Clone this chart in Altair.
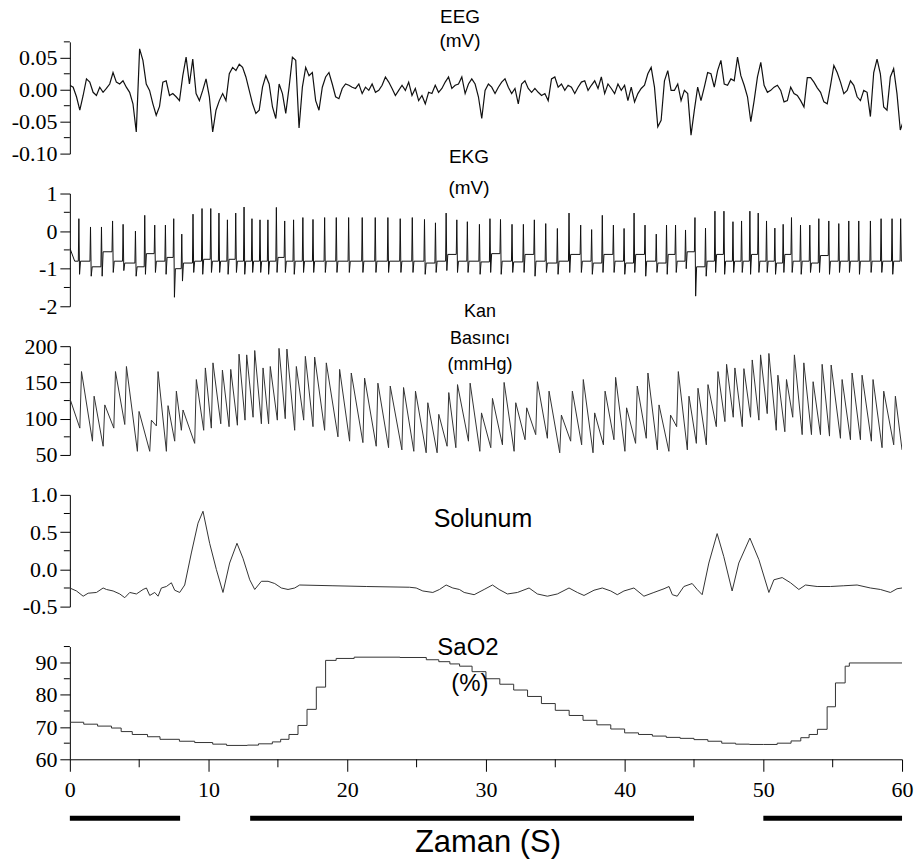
import altair as alt
import pandas as pd

# ---------------- data ----------------
X_DOMAIN = [0, 60]

# EEG (mV), sampled every EEG_STEP seconds from t = 0
EEG_STEP = 0.2395
EEG_MV = [
    0.007, 0.004, -0.011, -0.032, -0.009, 0.017, 0.012, -0.004, -0.009, 0.004,
    -0.004, 0.002, 0.009, 0.027, 0.012, 0.009, 0.014, 0.004, -0.004, -0.022,
    -0.066, 0.064, 0.046, 0.009, -0.001, -0.022, -0.040, -0.026, 0.012, 0.014,
    -0.009, -0.006, -0.011, -0.017, 0.022, 0.051, 0.009, 0.048, -0.006, -0.017,
    -0.001, 0.017, -0.011, -0.066, -0.032, -0.017, -0.006, -0.017, 0.025, 0.035,
    0.030, 0.040, 0.035, 0.020, -0.001, -0.022, -0.037, -0.032, 0.004, 0.022,
    0.009, -0.027, -0.045, 0.009, -0.006, -0.037, 0.004, 0.051, 0.046, -0.060,
    0.004, 0.035, 0.022, 0.027, -0.017, -0.032, 0.004, 0.020, 0.027, 0.009,
    -0.011, -0.014, 0.002, 0.009, 0.007, 0.004, 0.002, 0.009, -0.006, 0.004,
    -0.001, 0.009, -0.004, -0.001, 0.007, 0.020, 0.012, 0.002, -0.009, -0.001,
    0.007, -0.001, 0.012, -0.009, 0.002, -0.017, -0.009, -0.022, -0.004, -0.006,
    0.007, -0.004, 0.002, 0.012, 0.020, 0.002, 0.007, 0.009,
    0.020, -0.006, 0.009, 0.017, 0.009, -0.011, -0.045, -0.001, 0.009, 0.004,
    -0.006, 0.004, 0.012, 0.017, 0.004, -0.006, 0.002, -0.022, 0.009, 0.014,
    0.002, -0.004, 0.002, -0.004, -0.009, -0.006, -0.017, 0.017, 0.020, 0.004,
    0.009, -0.001, 0.007, 0.004, -0.006, 0.004, 0.012, 0.014, -0.001, 0.007,
    0.014, 0.002, 0.020, -0.006, 0.009, 0.002, -0.006, 0.009, -0.001, 0.007,
    -0.017, 0.004, -0.019, -0.006, 0.002, 0.007, 0.025, 0.035, 0.004, -0.058,
    -0.048, 0.014, 0.030, -0.001, -0.001, 0.009, -0.017, -0.001, -0.006, -0.071,
    -0.032, 0.004, -0.017, 0.004, 0.027, 0.025, 0.004, 0.030, 0.046, 0.009,
    0.007, 0.017, 0.014, 0.051, 0.022, 0.007, -0.011, -0.050, -0.017, 0.020,
    0.043, 0.007, -0.004, -0.001, 0.004, 0.007, -0.001, -0.019, -0.017, 0.004,
    -0.006, -0.009, -0.017, -0.027, 0.019, 0.019, 0.012, 0.003, -0.004, -0.019,
    -0.022, 0.007, 0.038, 0.027, 0.012, -0.006, -0.001, 0.014, 0.007, -0.011,
    -0.017, -0.001, -0.004, -0.042, 0.027, 0.048, 0.025, -0.027, -0.032, 0.020,
    0.033, -0.006, -0.063, -0.048,
]

# EKG (mV): trace start, then beats (time s, R peak, S trough, level after beat)
EKG_START = [(0.0, -0.45), (0.35, -0.8)]
EKG_BEATS = [
    (0.65, 0.33, -1.15, -0.8), (1.49, 0.11, -1.2, -0.95), (2.28, 0.11, -1.2, -0.55),
    (3.08, 0.27, -1.1, -0.8), (3.84, 0.18, -1.05, -0.85), (4.73, 0.0, -1.2, -0.95),
    (5.40, 0.42, -1.15, -0.6), (6.12, 0.16, -1.1, -0.8), (6.89, 0.16, -1.15, -0.7),
    (7.49, 0.33, -1.76, -1.0), (8.07, -0.08, -1.33, -0.85), (8.88, 0.45, -1.1, -0.8),
    (9.53, 0.6, -1.15, -0.75), (10.16, 0.6, -1.1, -0.8), (10.75, 0.48, -1.1, -0.8),
    (11.36, 0.3, -1.15, -0.75), (11.96, 0.48, -1.1, -0.8), (12.56, 0.64, -1.15, -0.8),
    (13.13, 0.33, -1.1, -0.8), (13.71, 0.3, -1.1, -0.8), (14.28, 0.3, -1.15, -0.8),
    (14.89, 0.63, -1.1, -0.7), (15.49, 0.27, -1.1, -0.8), (16.13, 0.3, -1.15, -0.8),
    (16.80, 0.36, -1.1, -0.8), (17.53, 0.31, -1.1, -0.8), (18.37, 0.36, -1.1, -0.8),
    (19.21, 0.36, -1.1, -0.8), (20.10, 0.36, -1.1, -0.8), (21.08, 0.36, -1.1, -0.8),
    (22.02, 0.36, -1.1, -0.8), (22.93, 0.36, -1.1, -0.8), (23.82, 0.33, -1.1, -0.8),
    (24.69, 0.36, -1.1, -0.8), (25.57, 0.31, -1.15, -0.85), (26.36, 0.22, -1.1, -0.8),
    (27.13, 0.48, -1.05, -0.62), (27.90, 0.3, -1.1, -0.8), (28.66, 0.25, -1.1, -0.8),
    (29.53, 0.18, -1.15, -0.82), (30.29, 0.33, -1.1, -0.6), (31.05, 0.31, -1.15, -0.8),
    (31.88, 0.18, -1.1, -0.82), (32.70, 0.18, -1.1, -0.62), (33.49, 0.3, -1.2, -0.8),
    (34.31, 0.2, -1.1, -0.85), (35.15, 0.07, -1.15, -0.8), (35.99, 0.48, -1.1, -0.62),
    (36.83, 0.16, -1.1, -0.8), (37.62, 0.04, -1.15, -0.85), (38.39, 0.42, -1.1, -0.62),
    (39.19, 0.16, -1.1, -0.8), (39.96, 0.07, -1.15, -0.85), (40.68, 0.48, -1.1, -0.62),
    (41.47, 0.16, -1.2, -0.8), (42.28, -0.08, -1.1, -0.85), (43.02, 0.16, -1.15, -0.62),
    (43.67, 0.16, -1.1, -0.8), (44.39, 0.03, -1.0, -0.55), (45.07, 0.36, -1.73, -0.95),
    (45.83, 0.08, -1.2, -0.8), (46.51, 0.53, -1.1, -0.62), (47.16, 0.53, -1.15, -0.8),
    (47.81, 0.25, -1.1, -0.8), (48.43, 0.27, -1.1, -0.8), (49.03, 0.53, -1.15, -0.62),
    (49.63, 0.48, -1.1, -0.8), (50.23, 0.27, -1.1, -0.8), (50.83, 0.08, -1.15, -0.85),
    (51.43, 0.18, -1.1, -0.62), (52.03, 0.36, -1.1, -0.8), (52.68, 0.16, -1.15, -0.8),
    (53.35, 0.16, -1.1, -0.85), (54.00, 0.33, -1.1, -0.65), (54.72, 0.27, -1.15, -0.8),
    (55.44, 0.2, -1.1, -0.8), (56.16, 0.27, -1.1, -0.8), (56.88, 0.27, -1.15, -0.8),
    (57.72, 0.27, -1.1, -0.8), (58.49, 0.33, -1.1, -0.8), (59.28, 0.33, -1.15, -0.8),
    (59.90, 0.33, -0.8, -0.8),
]

# Blood pressure (mmHg): start, beats (time s, systolic peak, low just before), end
BP_START = [(0.0, 128)]
BP_BEATS = [
    (0.84, 165, 87), (1.75, 131, 69), (2.52, 119, 62), (3.29, 165, 87), (4.08, 172, 92),
    (4.99, 110, 55), (5.88, 98, 55), (6.36, 165, 90), (7.08, 118, 55), (7.68, 138, 69),
    (8.16, 112, 84), (9.12, 154, 66), (9.77, 170, 84), (10.32, 177, 87), (11.0, 167, 93),
    (11.6, 168, 89), (12.2, 189, 91), (12.75, 188, 98), (13.33, 194, 102), (13.93, 170, 93),
    (14.45, 172, 93), (15.08, 197, 98), (15.65, 196, 100), (16.33, 172, 84), (16.98, 186, 98),
    (17.65, 185, 89), (18.49, 177, 84), (19.45, 168, 75), (20.29, 163, 69), (21.25, 156, 67),
    (22.21, 149, 62), (23.1, 145, 60), (24.06, 143, 57), (24.92, 138, 55), (25.81, 122, 53),
    (26.6, 106, 53), (27.32, 136, 62), (27.95, 147, 60), (28.86, 149, 69), (29.68, 108, 55),
    (30.47, 128, 60), (31.31, 150, 64), (32.15, 122, 55), (32.94, 115, 71), (33.71, 151, 78),
    (34.55, 138, 73), (35.44, 105, 53), (36.23, 138, 69), (37.02, 154, 64), (37.84, 108, 53),
    (38.59, 138, 64), (39.35, 157, 71), (40.14, 115, 55), (40.91, 145, 66), (41.68, 163, 73),
    (42.48, 119, 57), (43.31, 105, 55), (43.87, 165, 89), (44.64, 131, 57), (45.29, 142, 66),
    (46.01, 147, 64), (46.73, 165, 89), (47.35, 175, 96), (47.95, 170, 102), (48.6, 169, 89),
    (49.2, 181, 102), (49.8, 188, 98), (50.4, 190, 107), (51.05, 160, 84), (51.67, 154, 82),
    (52.24, 188, 102), (52.92, 177, 78), (53.59, 151, 78), (54.24, 175, 78), (54.89, 174, 76),
    (55.68, 154, 73), (56.4, 163, 71), (57.12, 160, 71), (57.91, 154, 69), (58.68, 138, 60),
    (59.52, 131, 64),
]
BP_END = [(60.0, 57)]

# Respiration (time s, value)
SOLUNUM = [
    (0.0, -0.25), (0.48, -0.29), (0.96, -0.36), (1.32, -0.32), (1.92, -0.31), (2.40, -0.25),
    (2.64, -0.27), (3.12, -0.29), (3.60, -0.33), (3.96, -0.38), (4.32, -0.31), (4.80, -0.33),
    (5.28, -0.27), (5.52, -0.25), (5.76, -0.35), (6.12, -0.31), (6.36, -0.36), (6.60, -0.25),
    (6.96, -0.23), (7.32, -0.18), (7.56, -0.28), (7.92, -0.31), (8.28, -0.21), (8.76, 0.22),
    (9.24, 0.62), (9.60, 0.78), (10.08, 0.35), (10.56, 0.0), (11.04, -0.31), (11.52, 0.085),
    (12.05, 0.35), (12.48, 0.15), (12.97, -0.14), (13.33, -0.27), (13.81, -0.16), (14.29, -0.16),
    (14.77, -0.19), (15.25, -0.25), (15.73, -0.27), (16.21, -0.25), (16.57, -0.21), (18.97, -0.22),
    (21.37, -0.23), (24.49, -0.24), (24.97, -0.25), (25.45, -0.29), (26.17, -0.31), (26.65, -0.27),
    (27.13, -0.21), (27.61, -0.25), (28.09, -0.27), (28.43, -0.31), (29.15, -0.34), (29.87, -0.27),
    (30.47, -0.21), (30.95, -0.27), (31.55, -0.33), (32.27, -0.31), (33.11, -0.25), (33.71, -0.33),
    (34.43, -0.36), (35.15, -0.33), (35.99, -0.25), (36.59, -0.31), (37.07, -0.35), (37.79, -0.28),
    (38.39, -0.25), (39.0, -0.29), (39.47, -0.34), (39.95, -0.29), (40.67, -0.25), (41.39, -0.36),
    (42.11, -0.31), (42.84, -0.26), (43.2, -0.23), (43.44, -0.34), (43.79, -0.36), (44.27, -0.23),
    (44.87, -0.19), (45.23, -0.27), (45.59, -0.34), (46.07, 0.085), (46.67, 0.48), (47.15, 0.17),
    (47.75, -0.29), (48.23, 0.085), (49.03, 0.42), (49.68, 0.13), (50.4, -0.31), (50.76, -0.14),
    (51.36, -0.11), (51.96, -0.18), (52.56, -0.27), (53.04, -0.21), (53.88, -0.23), (54.84, -0.23),
    (55.8, -0.22), (56.76, -0.21), (57.72, -0.25), (58.44, -0.27), (59.16, -0.31), (59.64, -0.26),
    (60.0, -0.25),
]

# SaO2 (%) stepped readings (time s, value)
SAO2 = [
    (0.0, 71.5), (1.0, 70.9), (2.0, 70.3), (3.0, 69.7), (3.7, 68.6), (4.5, 67.7), (5.6, 67.0),
    (6.5, 66.2), (7.9, 65.6), (9.0, 65.2), (10.3, 64.7), (11.3, 64.3), (12.8, 64.4), (13.6, 64.8),
    (14.6, 65.4), (15.2, 66.2), (15.8, 67.7), (16.45, 70.5), (17.1, 75.5), (17.77, 82.4),
    (18.44, 90.7), (19.2, 91.3), (20.5, 91.7), (23.8, 91.6), (25.7, 90.9), (26.6, 90.3),
    (27.4, 89.6), (28.1, 88.9), (29.0, 87.2), (30.0, 85.0), (31.0, 83.3), (32.0, 81.5),
    (33.0, 79.5), (34.0, 77.3), (35.0, 75.2), (36.0, 73.6), (37.0, 72.1), (38.0, 70.7),
    (39.0, 69.4), (40.0, 68.2), (41.0, 67.7), (42.0, 67.2), (43.0, 66.8), (44.0, 66.5),
    (45.0, 66.1), (46.0, 65.6), (47.0, 65.0), (48.0, 64.7), (49.0, 64.6), (50.0, 64.6),
    (51.0, 65.0), (52.0, 65.7), (52.7, 66.7), (53.3, 67.7), (53.9, 69.3), (54.6, 76.3),
    (55.2, 83.7), (55.9, 88.9), (56.2, 89.9), (60.0, 89.9),
]

# time bars under the axis (start s, end s)
BARS = [(0.0, 7.95), (13.0, 45.0), (50.0, 60.0)]

# axis tick values
EEG_MAJOR = [-0.10, -0.05, 0.0, 0.05]
EEG_MINOR = [-0.075, -0.025, 0.025, 0.075]
EKG_MAJOR = [-2, -1, 0, 1]
EKG_MINOR = [-1.5, -0.5, 0.5]
BP_MAJOR = [50, 100, 150, 200]
BP_MINOR = [75, 125, 175]
SOL_MAJOR = [-0.5, 0.0, 0.5, 1.0]
SOL_MINOR = [-0.25, 0.25, 0.75]
SAO2_MAJOR = [60, 70, 80, 90]
SAO2_MINOR = [65, 75, 85, 95]
X_MAJOR = [0, 10, 20, 30, 40, 50, 60]
X_MINOR = [5, 15, 25, 35, 45, 55]

# ---------------- tables ----------------
eeg_df = pd.DataFrame({"t": [i * EEG_STEP for i in range(len(EEG_MV))], "v": EEG_MV})

ekg_rows = list(EKG_START)
prev = EKG_START[-1][1]
for t, peak, trough, base in EKG_BEATS:
    ekg_rows += [(t - 0.04, prev), (t, peak), (t + 0.05, trough), (t + 0.12, base)]
    prev = base
ekg_df = pd.DataFrame(ekg_rows, columns=["t", "v"])

bp_rows = list(BP_START)
for t, peak, low in BP_BEATS:
    bp_rows += [(t - 0.12, low), (t, peak)]
bp_rows += BP_END
bp_df = pd.DataFrame(bp_rows, columns=["t", "v"])

sol_df = pd.DataFrame(SOLUNUM, columns=["t", "v"])
sao2_df = pd.DataFrame(SAO2, columns=["t", "v"])
bars_df = pd.DataFrame(BARS, columns=["start", "end"])

# ---------------- chart ----------------
SERIF = "Liberation Serif"
SANS = "Liberation Sans"
W = 834
XS = alt.Scale(domain=X_DOMAIN, nice=False, zero=False)


def y_axis(major, fmt):
    expr = f"(datum.value < 0 ? '-' : '') + format(abs(datum.value), '{fmt}')"
    return alt.Axis(values=major, labelExpr=expr, tickSize=10, tickColor="black",
                    domainColor="black", domainWidth=1, tickWidth=1,
                    labelFont=SERIF, labelFontSize=22, labelColor="black",
                    labelPadding=3, labelOverlap=False, grid=False, title=None)


X_AXIS = alt.Axis(values=X_MAJOR, format="d", tickSize=12, tickColor="black",
                  domainColor="black", domainWidth=1, tickWidth=1,
                  labelFont=SERIF, labelFontSize=22, labelColor="black",
                  labelPadding=8, labelFlush=False, labelOverlap=False,
                  grid=False, title=None)


def label(text, px, py, size):
    return alt.Chart(pd.DataFrame({"s": [text]})).mark_text(
        font=SANS, fontSize=size, color="black", align="center", baseline="middle"
    ).encode(x=alt.value(px), y=alt.value(py), text="s:N")


def panel(df, dom, major, minor, fmt, height, texts, color, width,
          interp="linear", bottom=False):
    ys = alt.Scale(domain=dom, nice=False, zero=False)
    yax = y_axis(major, fmt)
    xax = X_AXIS if bottom else None
    line = alt.Chart(df).mark_line(color=color, strokeWidth=width,
                                   interpolate=interp, clip=True).encode(
        x=alt.X("t:Q", scale=XS, axis=xax),
        y=alt.Y("v:Q", scale=ys, axis=yax),
    )
    ticks = alt.Chart(pd.DataFrame({"v": minor})).mark_rule(
        color="black", strokeWidth=1).encode(
        y=alt.Y("v:Q", scale=ys, axis=yax),
        x=alt.value(-6), x2=alt.value(0),
    )
    layers = [line, ticks]
    if bottom:
        xt = alt.Chart(pd.DataFrame({"t": X_MINOR})).mark_rule(
            color="black", strokeWidth=1).encode(
            x=alt.X("t:Q", scale=XS, axis=xax),
            y=alt.value(height), y2=alt.value(height + 8),
        )
        bars = alt.Chart(bars_df).mark_rule(color="black", strokeWidth=5,
                                            strokeCap="butt").encode(
            x=alt.X("start:Q", scale=XS, axis=xax), x2="end:Q",
            y=alt.value(height + 59),
        )
        layers += [xt, bars]
    for text, px, py, size in texts:
        layers.append(label(text, px, py, size))
    return alt.layer(*layers).properties(width=W, height=height)


p1 = panel(eeg_df, [-0.10, 0.075], EEG_MAJOR, EEG_MINOR, ".2f", 112,
           [("EEG", 391, -25, 19), ("(mV)", 391, -1, 19)], "#111", 1.2)
p2 = panel(ekg_df, [-2, 1], EKG_MAJOR, EKG_MINOR, "d", 113,
           [("EKG", 400, -37, 19), ("(mV)", 400, -6, 19)], "#111", 1.0)
p3 = panel(bp_df, [50, 200], BP_MAJOR, BP_MINOR, "d", 109,
           [("Kan", 411, -34, 18), ("Basıncı", 411, -7, 18), ("(mmHg)", 411, 19, 18)],
           "#333", 1.0)
p4 = panel(sol_df, [-0.5, 1.0], SOL_MAJOR, SOL_MINOR, ".1f", 112,
           [("Solunum", 414, 24, 25)], "#333", 1.0)
p5 = panel(sao2_df, [60, 95], SAO2_MAJOR, SAO2_MINOR, "d", 113,
           [("SaO2", 399, 1, 24), ("(%)", 401, 38, 24), ("Zaman (S)", 419, 197, 31)],
           "#333", 1.0, interp="step-after", bottom=True)

chart = alt.vconcat(p1, p2, p3, p4, p5, spacing=40, bounds="flush").properties(
    padding={"left": 11, "top": 7, "right": 5, "bottom": 5}
).configure_view(stroke=None).configure_axis(grid=False)

chart.save("out.html", embed_options={"renderer": "svg", "actions": False})
